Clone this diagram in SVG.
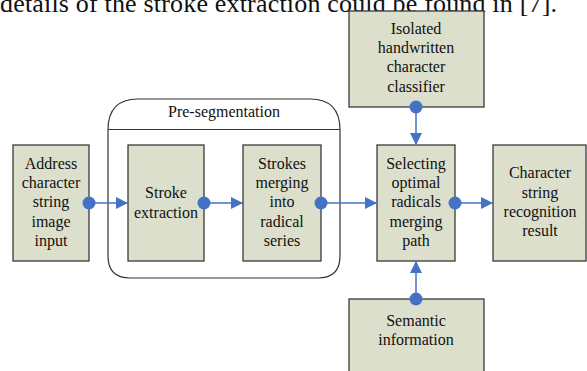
<svg xmlns="http://www.w3.org/2000/svg" width="587" height="371" viewBox="0 0 587 371">
<style>
.box{fill:#DCDFCB;stroke:#3a3a3a;stroke-width:1.3}
.t{font-family:"Liberation Serif","Times New Roman",serif;font-size:16px;fill:#111;text-anchor:middle}
.c{stroke:#4472C4;stroke-width:1.5;fill:none}
.dot{fill:#4472C4}
</style>
<defs>
<marker id="ah" viewBox="0 0 12 12" refX="12" refY="6" markerWidth="12" markerHeight="12" markerUnits="userSpaceOnUse" orient="auto">
<path d="M0,0 L12,6 L0,12 Z" fill="#4472C4"/>
</marker>
</defs>
<rect width="587" height="371" fill="#fff"/>
<text x="0" y="12" font-family="Liberation Serif, Times New Roman, serif" font-size="26" fill="#111" textLength="557" lengthAdjust="spacing">details of the stroke extraction could be found in [7].</text>
<g id="presegmentation">
<path d="M108,130 Q108,99 138,99 L310,99 Q340,99 340,130 L340,256 Q340,278 318,278 L130,278 Q108,278 108,256 Z" fill="#fff" stroke="#333" stroke-width="1.2"/>
<line x1="108" y1="129.5" x2="340" y2="129.5" stroke="#333" stroke-width="1.2"/>
<text class="t" x="224" y="117">Pre-segmentation</text>
</g>
<g id="address">
<rect class="box" x="13" y="145" width="76" height="116"/>
<text class="t" x="51" y="169">Address</text>
<text class="t" x="51" y="188.2">character</text>
<text class="t" x="51" y="207.4">string</text>
<text class="t" x="51" y="226.6">image</text>
<text class="t" x="51" y="245.8">input</text>
</g>
<g id="stroke-extraction">
<rect class="box" x="128" y="145" width="76" height="116"/>
<text class="t" x="166" y="198.3">Stroke</text>
<text class="t" x="166" y="217.5">extraction</text>
</g>
<g id="strokes-merging">
<rect class="box" x="243" y="145" width="78" height="116"/>
<text class="t" x="282" y="169">Strokes</text>
<text class="t" x="282" y="188.2">merging</text>
<text class="t" x="282" y="207.4">into</text>
<text class="t" x="282" y="226.6">radical</text>
<text class="t" x="282" y="245.8">series</text>
</g>
<g id="selecting">
<rect class="box" x="377" y="145" width="78" height="116"/>
<text class="t" x="416" y="169">Selecting</text>
<text class="t" x="416" y="188.2">optimal</text>
<text class="t" x="416" y="207.4">radicals</text>
<text class="t" x="416" y="226.6">merging</text>
<text class="t" x="416" y="245.8">path</text>
</g>
<g id="result">
<rect class="box" x="493" y="145" width="93" height="116"/>
<text class="t" x="540" y="178.3">Character</text>
<text class="t" x="540" y="197.5">string</text>
<text class="t" x="540" y="216.7">recognition</text>
<text class="t" x="540" y="235.9">result</text>
</g>
<g id="classifier">
<rect class="box" x="349" y="11" width="135" height="96"/>
<text class="t" x="416" y="34">Isolated</text>
<text class="t" x="416" y="53.2">handwritten</text>
<text class="t" x="416" y="72.4">character</text>
<text class="t" x="416" y="91.6">classifier</text>
</g>
<g id="semantic">
<rect class="box" x="349" y="299" width="135" height="80"/>
<text class="t" x="416" y="326">Semantic</text>
<text class="t" x="416" y="345.2">information</text>
</g>
<g id="connectors">
<line class="c" x1="89" y1="203" x2="128" y2="203" marker-end="url(#ah)"/>
<line class="c" x1="204" y1="203" x2="243" y2="203" marker-end="url(#ah)"/>
<line class="c" x1="321" y1="203" x2="377" y2="203" marker-end="url(#ah)"/>
<line class="c" x1="455" y1="203" x2="493" y2="203" marker-end="url(#ah)"/>
<line class="c" x1="416" y1="107" x2="416" y2="145" marker-end="url(#ah)"/>
<line class="c" x1="416" y1="299" x2="416" y2="261" marker-end="url(#ah)"/>
<circle class="dot" cx="89" cy="203" r="6.5"/>
<circle class="dot" cx="204" cy="203" r="6.5"/>
<circle class="dot" cx="321" cy="203" r="6.5"/>
<circle class="dot" cx="455" cy="203" r="6.5"/>
<circle class="dot" cx="416" cy="107" r="6.5"/>
<circle class="dot" cx="416" cy="299" r="6.5"/>
</g>
</svg>
